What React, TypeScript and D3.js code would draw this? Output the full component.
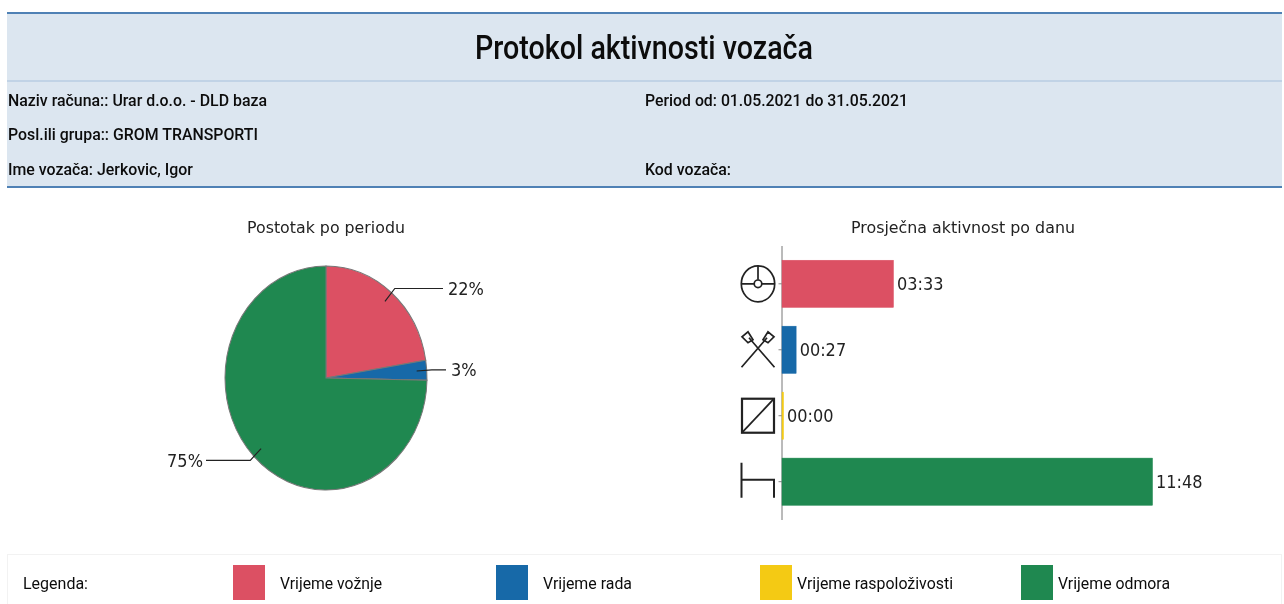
import React from "react";
import * as d3 from "d3";

const categories = ["Vrijeme vožnje", "Vrijeme rada", "Vrijeme raspoloživosti", "Vrijeme odmora"];
const minutes = [213, 27, 0, 708];
const timeLabels = ["03:33", "00:27", "00:00", "11:48"];
const colors = ["#dc5063", "#1769a8", "#f4ca14", "#1f8850"];
const pieLabels = ["22%", "3%", "", "75%"];
const infoLeft = ["Naziv računa:: Urar d.o.o. - DLD baza", "Posl.ili grupa:: GROM TRANSPORTI", "Ime vozača: Jerkovic, Igor"];
const infoRight = ["Period od: 01.05.2021 do 31.05.2021", "", "Kod vozača:"];
const infoLeftWidths = [259, 250, 185];
const infoRightWidths = [263, 0, 86];
const legendX = [233, 496, 760, 1021];
const legendTextX = [280, 543, 797, 1058];
const legendTextW = [102, 89, 156, 112];

const ROBOTO = "Roboto, sans-serif";
const DEJAVU = "'DejaVu Sans', sans-serif";
const K = 112 / 101;
const R = 101;
const cx = 326;
const cy = 378;

const pieGen = d3.pie<number>().sort(null).value((d) => d);
const arcs = pieGen(minutes);
const arcGen = d3.arc<d3.PieArcDatum<number>>().innerRadius(0).outerRadius(R);

const xBar = d3.scaleLinear().domain([0, 708]).range([782, 1152.5]);
const yBar = d3.scaleBand<string>().domain(categories).range([251, 514.5]).paddingInner(0.285).paddingOuter(0.14);

function Fit(p: any) {
  return (
    <text x={p.x} y={p.y} fontFamily={p.font || ROBOTO} fontSize={p.size} fontWeight={p.weight || 400} fill={p.fill || "#0c0c0c"}
      textLength={p.w} lengthAdjust="spacingAndGlyphs" textAnchor={p.anchor}>{p.children}</text>
  );
}

function Squeezed(p: any) {
  return (
    <text transform={`translate(${p.x},${p.y}) scale(0.95,1)`} textAnchor={p.anchor} fontFamily={DEJAVU} fontSize={17} fill="#222">{p.children}</text>
  );
}

function Icon({ i }: { i: number }) {
  const s = { fill: "none", stroke: "#222", strokeWidth: 1.7 };
  if (i === 0)
    return (
      <g {...s}>
        <ellipse rx={16.7} ry={18} />
        <circle r={3.8} />
        <path d="M-16.7 0H-4M4 0H16.7M0 -18V-4" />
      </g>
    );
  if (i === 1)
    return (
      <g {...s}>
        <path d="M-16.5 17.5L9 -12M16.5 17.5L-9 -12" />
        <path d="M5 -10L10 -18L16 -13L10 -7ZM-5 -10L-10 -18L-16 -13L-10 -7Z" />
      </g>
    );
  if (i === 2)
    return (
      <g {...s} strokeWidth={2.2}>
        <rect x={-16} y={-17} width={32} height={34} />
        <path d="M-16 17L16 -17" strokeWidth={1.8} />
      </g>
    );
  return (
    <g {...s} strokeWidth={2}>
      <path d="M-16.5 -19V16M-16.5 -2H16V16" />
    </g>
  );
}

export default function App() {
  return (
    <svg width={1284} height={604} viewBox="0 0 1284 604"
      style={{ position: "absolute", left: 0, top: 0, display: "block", background: "#fff", filter: "blur(0.4px)" }}>
      <rect x={7} y={12} width={1275} height={175} fill="#dce6f0" />
      <rect x={7} y={12} width={1275} height={2} fill="#4f81b5" />
      <rect x={7} y={80.5} width={1275} height={1} fill="#a6bfdb" />
      <rect x={7} y={186} width={1275} height={2} fill="#4f81b5" />
      <Fit x={475} y={58.5} size={33} weight={500} w={338}>Protokol aktivnosti vozača</Fit>
      {infoLeft.map((t, i) => (
        <Fit key={t} x={8} y={105.5 + i * 34.7} size={17} weight={500} w={infoLeftWidths[i]}>{t}</Fit>
      ))}
      {infoRight.map((t, i) => t && (
        <Fit key={t} x={645} y={105.5 + i * 34.7} size={17} weight={500} w={infoRightWidths[i]}>{t}</Fit>
      ))}

      <Fit x={247} y={233} size={16.5} font={DEJAVU} w={158} fill="#222">Postotak po periodu</Fit>
      <g transform={`translate(${cx},${cy}) scale(1,${K})`}>
        {arcs.map((a, i) => (
          <path key={i} d={arcGen(a) as string} fill={colors[i]} stroke="#777" strokeWidth={1} />
        ))}
      </g>
      {arcs.map((a, i) => {
        if (!pieLabels[i]) return null;
        const mid = (a.startAngle + a.endAngle) / 2;
        const sx = Math.sin(mid), cs = -Math.cos(mid);
        const ax = cx + 0.9 * R * sx, ay = cy + 0.9 * R * K * cs;
        const bx = cx + 1.05 * R * sx, by = cy + 1.05 * R * K * cs;
        const right = sx > 0;
        const ex = right ? (i === 1 ? 446 : 443) : 206;
        return (
          <g key={i}>
            <path d={`M${ax} ${ay}L${bx} ${by}H${ex}`} fill="none" stroke="#222" strokeWidth={1.2} />
            <Squeezed x={right ? ex + 5 : ex - 3} y={by + 6.5} anchor={right ? "start" : "end"}>{pieLabels[i]}</Squeezed>
          </g>
        );
      })}

      <Fit x={851} y={233} size={16.5} font={DEJAVU} w={224} fill="#222">Prosječna aktivnost po danu</Fit>
      <line x1={782} x2={782} y1={246} y2={520} stroke="#777" strokeWidth={1} />
      {categories.map((c, i) => {
        const y = yBar(c) as number;
        const h = yBar.bandwidth();
        const w = Math.max(xBar(minutes[i]) - xBar(0), 1.5);
        return (
          <g key={c}>
            <line x1={778.5} x2={782} y1={y + h / 2} y2={y + h / 2} stroke="#888" />
            <rect x={xBar(0)} y={y} width={w} height={h} fill={colors[i]} stroke={colors[i]} strokeWidth={0.5} />
            <Squeezed x={xBar(0) + w + 3.5} y={y + h / 2 + 6.5}>{timeLabels[i]}</Squeezed>
            <g transform={`translate(758,${y + h / 2})`}><Icon i={i} /></g>
          </g>
        );
      })}

      <rect x={7.5} y={554.5} width={1274} height={60} fill="#fff" stroke="#f2f2f2" />
      <Fit x={23} y={589} size={17} w={65}>Legenda:</Fit>
      {categories.map((c, i) => (
        <g key={c}>
          <rect x={legendX[i]} y={565} width={32} height={35} fill={colors[i]} />
          <Fit x={legendTextX[i]} y={589} size={17} w={legendTextW[i]}>{c}</Fit>
        </g>
      ))}
    </svg>
  );
}
